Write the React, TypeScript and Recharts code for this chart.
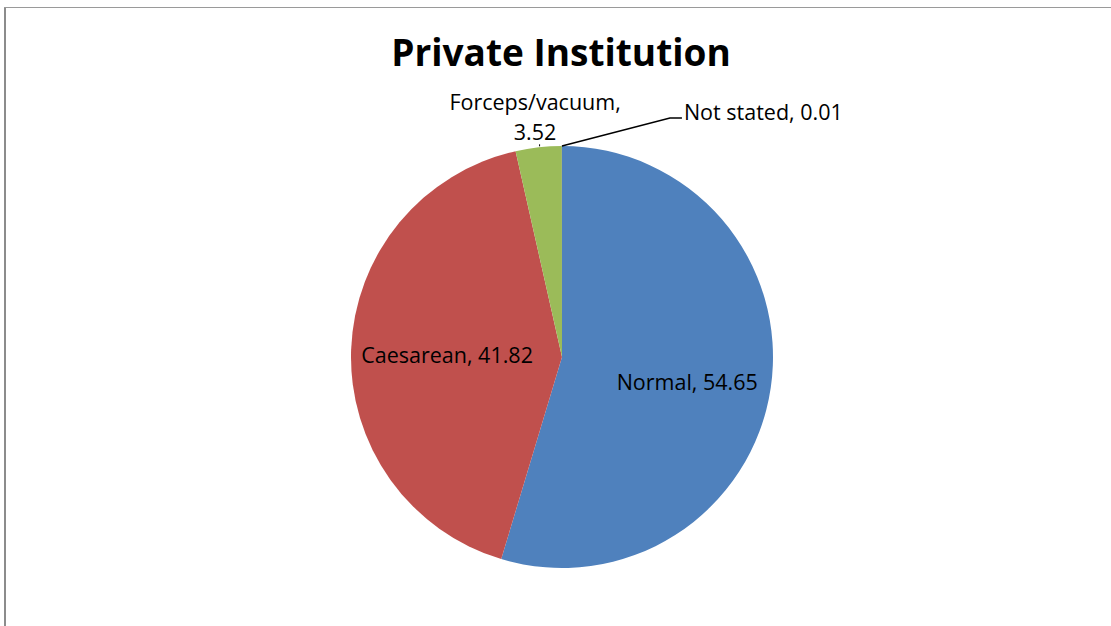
import React from "react";
import { PieChart, Pie, Cell } from "recharts";

const categories = ["Normal", "Caesarean", "Forceps/vacuum", "Not stated"];
const values = [54.65, 41.82, 3.52, 0.01];
const colors = ["#4F81BD", "#C0504D", "#9BBB59", "#8064A2"];
const title = "Private Institution";

const data = categories.map((name, i) => ({ name, value: values[i] }));

const RAD = Math.PI / 180;
const FONT = "'Open Sans', sans-serif";
const LABEL_SIZE = 21.5;

function polar(cx: number, cy: number, r: number, angle: number) {
  return { x: cx + r * Math.cos(-angle * RAD), y: cy + r * Math.sin(-angle * RAD) };
}

function renderLabel(props: any) {
  const { cx, cy, midAngle, outerRadius, index, name, value } = props;
  const text = `${name}, ${value}`;
  if (index === 0) {
    const p = polar(cx, cy, outerRadius * 0.6, midAngle);
    return (
      <text x={p.x} y={p.y + 6} textAnchor="middle" dominantBaseline="central"
        fill="#000" fontFamily={FONT} fontSize={LABEL_SIZE}>{text}</text>
    );
  }
  if (index === 1) {
    const p = polar(cx, cy, outerRadius * 0.545, midAngle);
    return (
      <text x={p.x} y={p.y + 2} textAnchor="middle" dominantBaseline="central"
        fill="#000" fontFamily={FONT} fontSize={LABEL_SIZE}>{text}</text>
    );
  }
  if (index === 2) {
    const e = polar(cx, cy, outerRadius, midAngle);
    return (
      <g>
        <line x1={e.x + 1} y1={e.y - 1} x2={e.x + 1} y2={e.y - 3} stroke="#000" strokeWidth={1} />
        <text x={e.x - 3.5} y={e.y - 37} textAnchor="middle"
          fill="#000" fontFamily={FONT} fontSize={LABEL_SIZE}>{`${name},`}</text>
        <text x={e.x - 3.5} y={e.y - 7} textAnchor="middle"
          fill="#000" fontFamily={FONT} fontSize={LABEL_SIZE}>{`${value}`}</text>
      </g>
    );
  }
  const e = polar(cx, cy, outerRadius, midAngle);
  const bend = { x: e.x + 108, y: e.y - 28 };
  const end = { x: e.x + 120, y: e.y - 28 };
  return (
    <g>
      <polyline points={`${e.x},${e.y} ${bend.x},${bend.y} ${end.x},${end.y}`}
        fill="none" stroke="#000" strokeWidth={1.5} />
      <text x={end.x + 2} y={e.y - 26} textAnchor="start"
        fill="#000" fontFamily={FONT} fontSize={LABEL_SIZE}>{text}</text>
    </g>
  );
}

export default function App() {
  return (
    <div style={{ position: "absolute", left: 0, top: 0, width: 1111, height: 626, overflow: "hidden", background: "#fff" }}>
      <div style={{ position: "absolute", left: 4, top: 7, width: 2, height: 619, background: "#8c8c8c" }} />
      <div style={{ position: "absolute", left: 4, top: 7, width: 1107, height: 1, background: "#9a9a9a" }} />
      <div style={{
        position: "absolute", left: 561, top: 33, transform: "translateX(-50%)",
        fontFamily: FONT, fontWeight: 700, fontSize: 37, lineHeight: "37px",
        whiteSpace: "nowrap", color: "#000",
      }}>{title}</div>
      <div style={{ position: "absolute", left: 0, top: 0 }}>
        <PieChart width={1111} height={626} margin={{ top: 0, right: 0, bottom: 0, left: 0 }}>
          <Pie
            data={data}
            dataKey="value"
            nameKey="name"
            cx={562}
            cy={357}
            outerRadius={211}
            startAngle={90}
            endAngle={-270}
            isAnimationActive={false}
            label={renderLabel}
            labelLine={false}
            stroke="none"
          >
            {data.map((d, i) => (
              <Cell key={d.name} fill={colors[i]} stroke="none" />
            ))}
          </Pie>
        </PieChart>
      </div>
    </div>
  );
}
